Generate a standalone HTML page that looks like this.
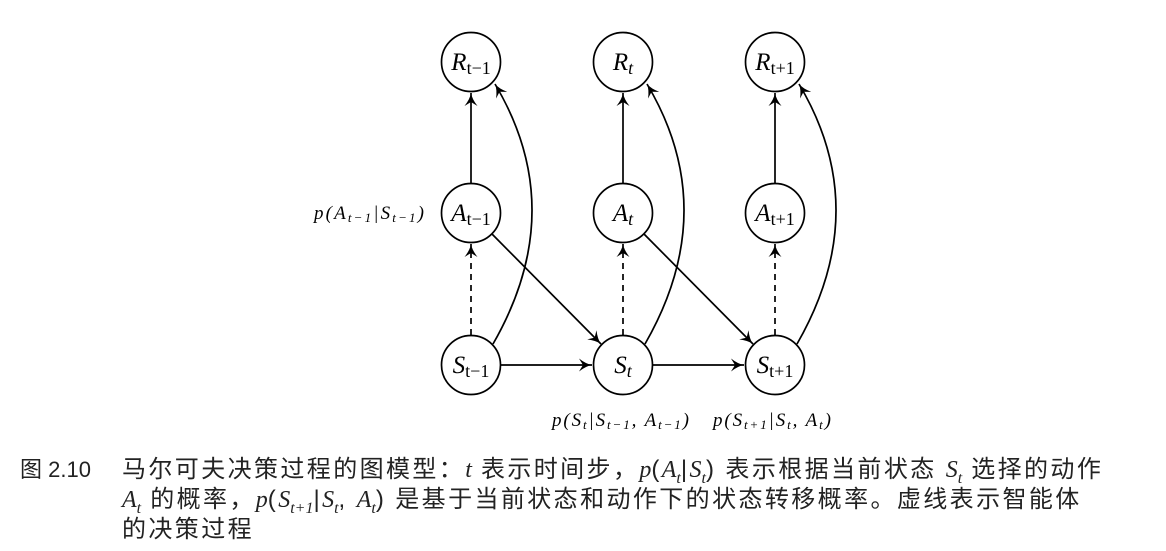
<!DOCTYPE html>
<html><head><meta charset="utf-8"><style>
body{margin:0;width:1166px;height:551px;background:#fff;overflow:hidden;position:relative;font-family:"Liberation Sans","Noto Sans CJK SC",sans-serif;}
svg{position:absolute;left:0;top:0}
.cap{position:absolute;font-size:24px;color:#222;line-height:30px;white-space:nowrap;letter-spacing:2.4px}
i{font-family:"Liberation Serif",serif;letter-spacing:0}
sub{font-size:16px}
</style></head><body>
<svg width="1166" height="440" viewBox="0 0 1166 440">
<defs><marker id="a" markerWidth="16" markerHeight="16" refX="14" refY="8" orient="auto" markerUnits="userSpaceOnUse"><path d="M1,1.5 Q8,7 14,8 Q8,9 1,14.5 L5,8 Z" fill="#000"/></marker></defs>
<g fill="none" stroke="#000" stroke-width="1.7">
<circle cx="471" cy="62" r="29.5"/><circle cx="623" cy="62" r="29.5"/><circle cx="775" cy="62" r="29.5"/>
<circle cx="471" cy="213" r="29.5"/><circle cx="623" cy="213" r="29.5"/><circle cx="775" cy="213" r="29.5"/>
<circle cx="471" cy="365" r="29.5"/><circle cx="623" cy="365" r="29.5"/><circle cx="775" cy="365" r="29.5"/>
<g marker-end="url(#a)">
<line x1="471" y1="183" x2="471" y2="93"/><line x1="623" y1="183" x2="623" y2="93"/><line x1="775" y1="183" x2="775" y2="93"/>
<line x1="471" y1="335" x2="471" y2="244" stroke-dasharray="6,5"/><line x1="623" y1="335" x2="623" y2="244" stroke-dasharray="6,5"/><line x1="775" y1="335" x2="775" y2="244" stroke-dasharray="6,5"/>
<line x1="501" y1="365" x2="592" y2="365"/><line x1="653" y1="365" x2="744" y2="365"/>
<line x1="492" y1="234" x2="601" y2="344"/><line x1="644" y1="234" x2="753" y2="344"/>
<path d="M493,344 Q570,210 495,84"/><path d="M645,344 Q722,210 647,84"/><path d="M797,344 Q874,210 799,84"/>
</g></g>
<g font-family="Liberation Serif,serif" font-style="italic" font-size="25" text-anchor="middle">
<text x="471" y="70">R<tspan font-size="18" dy="4" font-style="normal">t−1</tspan></text>
<text x="623" y="70">R<tspan font-size="18" dy="4">t</tspan></text>
<text x="775" y="70">R<tspan font-size="18" dy="4" font-style="normal">t+1</tspan></text>
<text x="471" y="221">A<tspan font-size="18" dy="4" font-style="normal">t−1</tspan></text>
<text x="623" y="221">A<tspan font-size="18" dy="4">t</tspan></text>
<text x="775" y="221">A<tspan font-size="18" dy="4" font-style="normal">t+1</tspan></text>
<text x="471" y="373">S<tspan font-size="18" dy="4" font-style="normal">t−1</tspan></text>
<text x="623" y="373">S<tspan font-size="18" dy="4">t</tspan></text>
<text x="775" y="373">S<tspan font-size="18" dy="4" font-style="normal">t+1</tspan></text>
</g>
<g font-family="Liberation Serif,serif" font-style="italic" font-size="19">
<text x="314" y="219" textLength="110">p(A<tspan font-size="13" dy="3">t−1</tspan><tspan dy="-3">|S</tspan><tspan font-size="13" dy="3">t−1</tspan><tspan dy="-3">)</tspan></text>
<text x="552" y="426" textLength="137">p(S<tspan font-size="13" dy="3">t</tspan><tspan dy="-3">|S</tspan><tspan font-size="13" dy="3">t−1</tspan><tspan dy="-3">, A</tspan><tspan font-size="13" dy="3">t−1</tspan><tspan dy="-3">)</tspan></text>
<text x="713" y="426" textLength="118">p(S<tspan font-size="13" dy="3">t+1</tspan><tspan dy="-3">|S</tspan><tspan font-size="13" dy="3">t</tspan><tspan dy="-3">, A</tspan><tspan font-size="13" dy="3">t</tspan><tspan dy="-3">)</tspan></text>
</g>
</svg>
<div class="cap" style="left:20px;top:455px;font-size:22px;letter-spacing:0">图 2.10</div>
<div class="cap" style="left:122px;top:455px">马尔可夫决策过程的图模型：<i>t</i> 表示时间步，<i>p</i>(<i>A<sub>t</sub></i>|<i>S<sub>t</sub></i>) 表示根据当前状态 <i>S<sub>t</sub></i> 选择的动作</div>
<div class="cap" style="left:122px;top:485px"><i>A<sub>t</sub></i> 的概率，<i>p</i>(<i>S<sub>t+1</sub></i>|<i>S<sub>t</sub></i>, <i>A<sub>t</sub></i>) 是基于当前状态和动作下的状态转移概率。虚线表示智能体</div>
<div class="cap" style="left:122px;top:515px">的决策过程</div>
</body></html>
